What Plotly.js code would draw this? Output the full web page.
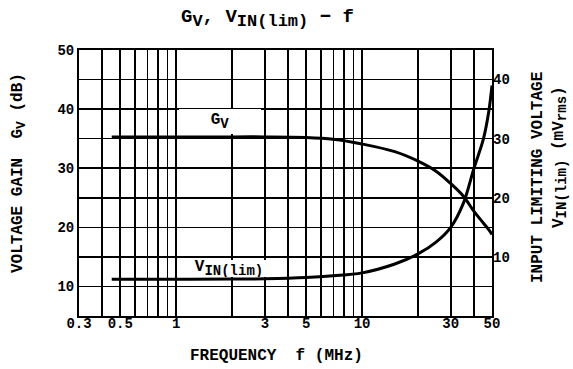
<!DOCTYPE html>
<html>
<head>
<meta charset="utf-8">
<script src="https://cdn.plot.ly/plotly-3.0.1.min.js"></script>
<style>html,body{margin:0;padding:0;background:#fff;}#chart{width:573px;height:369px;}</style>
</head>
<body>
<div id="chart"></div>
<script>
// Frequency (MHz)
var freq = [0.45, 1, 2, 3, 5, 7, 10, 15, 20, 25, 30, 35, 40, 45, 48, 50];
// Voltage gain Gv (dB), left axis
var gainDb = [35.3, 35.3, 35.3, 35.3, 35.2, 34.9, 34.1, 32.8, 31.2, 29.5, 27.4, 25.3, 22.7, 20.7, 19.6, 18.8];
// Input limiting voltage VIN(lim) (mVrms), right axis
var vinLim = [6.2, 6.2, 6.25, 6.3, 6.5, 6.8, 7.3, 8.8, 10.5, 12.5, 15.0, 19.0, 25.0, 30.0, 34.5, 39.0];

// x grid / tick labels
var xGridVals = [0.3,0.4,0.5,0.6,0.7,0.8,0.9,1,2,3,4,5,6,7,8,9,10,20,30,40,50];
var xLabelVals = [0.3, 0.5, 1, 3, 5, 10, 30, 50];
var xLabelText = ['0.3', '0.5', '1', '3', '5', '10', '30', '50'];
// left axis grid / labels
var yGridVals = [5,10,15,20,25,30,35,40,45,50];
var yLabelVals = [10, 20, 30, 40, 50];
// right axis labels
var y2LabelVals = [10, 20, 30, 40];

var FONT = 'Liberation Mono, Courier New, monospace';
function f(size){ return {family: FONT, size: size, color: '#000', weight: 700}; }
function sub(t, size){ return '<sub><span style="font-size:' + size + 'px">' + t + '</span></sub>'; }

var yText = yGridVals.map(function(v){
  return yLabelVals.indexOf(v) >= 0 ? String(v) : '';
});

var traces = [
  {x: freq, y: gainDb, type: 'scatter', mode: 'lines', yaxis: 'y',
   line: {color: '#000', width: 3, shape: 'spline', smoothing: 1}, hoverinfo: 'skip'},
  {x: freq, y: vinLim, type: 'scatter', mode: 'lines', yaxis: 'y2',
   line: {color: '#000', width: 3, shape: 'spline', smoothing: 1}, hoverinfo: 'skip'}
];

var PL = 79, PR = 492, PT = 50, PB = 316;
function px(x){ return (x - PL) / (PR - PL); }
function py(y){ return (PB - y) / (PB - PT); }
function ann(x, y, text, size, extra){
  var a = {xref: 'paper', yref: 'paper', x: px(x), y: py(y), xanchor: 'center', yanchor: 'middle',
           showarrow: false, text: text, font: f(size)};
  for (var k in (extra || {})) a[k] = extra[k];
  return a;
}

var layout = {
  width: 573, height: 369,
  margin: {l: PL, r: 573 - PR, t: PT, b: 369 - PB, pad: 0},
  paper_bgcolor: '#fff', plot_bgcolor: '#fff',
  showlegend: false,
  font: f(14),
  xaxis: {
    type: 'log', range: [Math.log10(0.3), Math.log10(50)],
    tickmode: 'array', tickvals: xLabelVals, ticktext: xLabelText,
    showgrid: true, gridcolor: '#000', gridwidth: 1.5,
    minor: {tickmode: 'array', tickvals: xGridVals, showgrid: true, gridcolor: '#000', gridwidth: 1.5, ticks: ''},
    showline: true, mirror: true, linecolor: '#000', linewidth: 2,
    ticks: '', ticklabelstandoff: -7, tickfont: f(14), zeroline: false, fixedrange: true
  },
  yaxis: {
    range: [5, 50],
    tickmode: 'array', tickvals: yGridVals, ticktext: yText,
    showgrid: true, gridcolor: '#000', gridwidth: 1.5,
    showline: true, mirror: true, linecolor: '#000', linewidth: 2,
    ticks: '', tickfont: f(14), zeroline: false, fixedrange: true
  },
  yaxis2: {
    range: [0, 45], overlaying: 'y', side: 'right',
    tickmode: 'array', tickvals: y2LabelVals,
    showgrid: false, showline: false, zeroline: false,
    ticks: '', tickfont: f(14), fixedrange: true
  },
  annotations: [
    ann(267, 18, 'G' + sub('V', 17) + ', V' + sub('IN(lim)', 17) + ' \u2212 f', 19),
    ann(276, 356, 'FREQUENCY\u00a0\u00a0f\u00a0(MHz)', 16),
    ann(19, 173, 'VOLTAGE GAIN\u00a0\u00a0G' + sub('V', 13) + '\u00a0(dB)', 16, {textangle: -90}),
    ann(538, 178, 'INPUT LIMITING VOLTAGE', 16, {textangle: -90}),
    ann(560, 157, 'V' + sub('IN(lim)', 14) + '\u00a0(mV' + sub('rms', 14) + ')', 16, {textangle: -90}),
    ann(220, 121.5, 'G' + sub('V', 14), 16, {bgcolor: '#fff', width: 82, height: 25, borderpad: 0, borderwidth: 0}),
    ann(229, 268, 'V' + sub('IN(lim)', 14), 16, {bgcolor: '#fff', width: 98, height: 17, borderpad: 0, borderwidth: 0})
  ]
};

Plotly.newPlot('chart', traces, layout, {displayModeBar: false, staticPlot: true});
</script>
</body>
</html>
